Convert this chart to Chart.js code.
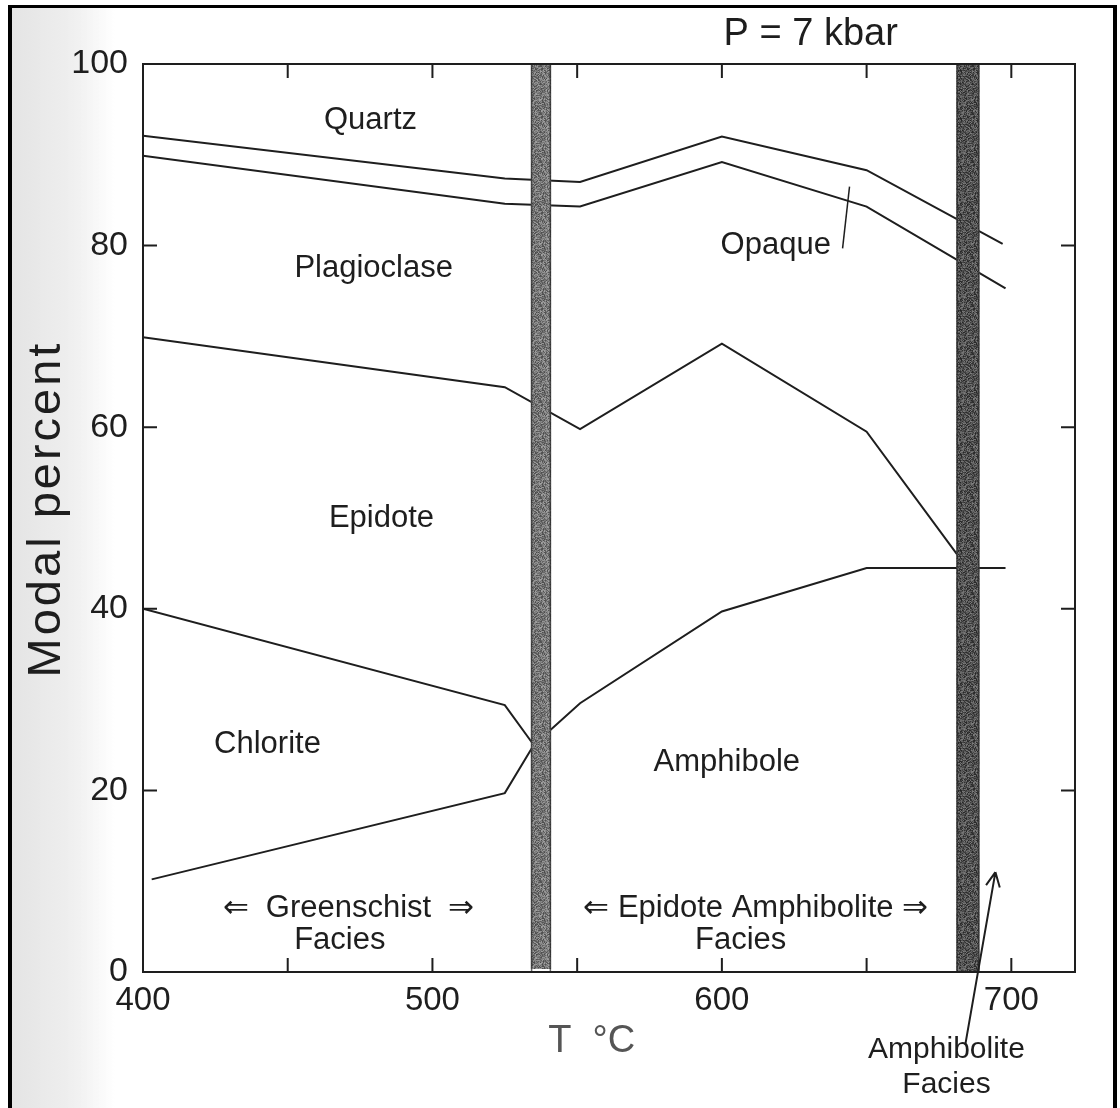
<!DOCTYPE html>
<html>
<head>
<meta charset="utf-8">
<script src="https://cdn.jsdelivr.net/npm/chart.js@4.4.1/dist/chart.umd.min.js"></script>
<style>
  html, body { margin: 0; padding: 0; background: #fff; }
  canvas { display: block; }
</style>
</head>
<body>
<canvas id="modalChart" width="1120" height="1108"></canvas>
<script>
// Modal percent vs temperature, P = 7 kbar
const quartzT = [400, 525, 551, 600, 650, 697];
const quartzV = [92.1, 87.4, 87.0, 92.0, 88.3, 80.2];

const opaqueT = [400, 525, 551, 600, 650, 698];
const opaqueV = [89.9, 84.6, 84.3, 89.2, 84.3, 75.3];

const epidoteT = [400, 525, 551, 600, 650, 684];
const epidoteV = [69.9, 64.4, 59.8, 69.2, 59.5, 44.8];

const chloriteTopT = [400, 525, 535];
const chloriteTopV = [40.0, 29.4, 25.0];

const chloriteBotT = [403, 525, 535];
const chloriteBotV = [10.2, 19.7, 25.0];

const amphiboleT = [535, 551, 600, 650, 698];
const amphiboleV = [25.0, 29.6, 39.7, 44.5, 44.5];

// facies boundary bands (T start / end)
const bandStart = [534, 681];
const bandEnd = [541, 689];

const xTickLabels = [400, 500, 600, 700];
const yTickLabels = [0, 20, 40, 60, 80, 100];
const xTickMarks = [450, 500, 550, 600, 650, 700];
const yTickMarks = [20, 40, 60, 80];

const FONT = '"Liberation Sans", Arial, Helvetica, sans-serif';
const INK = '#1e1e1e';

function pts(ts, vs) {
    return ts.map(function (t, i) { return { x: t, y: vs[i] }; });
}

function lineSet(ts, vs) {
    return {
        data: pts(ts, vs),
        borderColor: INK,
        borderWidth: 2,
        pointRadius: 0,
        tension: 0,
        fill: false
    };
}

// texts placed in data units (T, modal %)
const labels = [
    { text: 'Quartz', t: 478.6, v: 93.8, size: 31 },
    { text: 'Plagioclase', t: 479.7, v: 77.5, size: 31 },
    { text: 'Opaque', t: 618.6, v: 80.0, size: 31 },
    { text: 'Epidote', t: 482.4, v: 50.0, size: 31 },
    { text: 'Chlorite', t: 443.0, v: 25.1, size: 31 },
    { text: 'Amphibole', t: 601.7, v: 23.1, size: 31 },
    { text: '\u21D0  Greenschist  \u21D2', t: 471.0, v: 7.0, size: 31 },
    { text: 'Facies', t: 468.0, v: 3.5, size: 31 },
    { text: '\u21D0 Epidote Amphibolite \u21D2', t: 611.7, v: 7.0, size: 31 },
    { text: 'Facies', t: 606.5, v: 3.5, size: 31 },
    { text: 'Amphibolite', t: 677.6, v: -8.6, size: 30 },
    { text: 'Facies', t: 677.6, v: -12.4, size: 30 },
    { text: 'P = 7 kbar', t: 630.7, v: 103.3, size: 38 },
    { text: 'T  \u00B0C', t: 555.0, v: -7.7, size: 38, color: '#555' }
];

const opaqueLeader = [[644.1, 86.5], [641.7, 79.7]];
const faciesArrow = [[684.1, -8.0], [694.5, 11.0]];

// speckled fill like the scanned bands (fixed seed, texture only)
function speckle(base) {
    const p = document.createElement('canvas');
    p.width = 48; p.height = 48;
    const pc = p.getContext('2d');
    const img = pc.createImageData(48, 48);
    let s = 12345;
    for (let i = 0; i < 48 * 48; i++) {
        s = (s * 1103515245 + 12345) & 0x7fffffff;
        const g = Math.max(0, Math.min(255, base + ((s >> 8) % 90) - 45));
        img.data[i * 4] = g; img.data[i * 4 + 1] = g; img.data[i * 4 + 2] = g; img.data[i * 4 + 3] = 255;
    }
    pc.putImageData(img, 0, 0);
    return p;
}

const decorPlugin = {
    id: 'decor',
    beforeDraw: function (chart) {
        const c = chart.ctx;
        // scanned page shade on the left
        const g = c.createLinearGradient(12, 0, 115, 0);
        g.addColorStop(0, 'rgba(210,210,210,0.6)');
        g.addColorStop(0.6, 'rgba(210,210,210,0.35)');
        g.addColorStop(1, 'rgba(210,210,210,0)');
        c.fillStyle = g;
        c.fillRect(12, 8, 103, 1100);
    },
    afterDatasetsDraw: function (chart) {
        const c = chart.ctx;
        const xs = chart.scales.x, ys = chart.scales.y;
        const top = ys.getPixelForValue(100), bot = ys.getPixelForValue(0);
        const bases = [118, 82];
        bandStart.forEach(function (s, i) {
            const x0 = xs.getPixelForValue(s), x1 = xs.getPixelForValue(bandEnd[i]);
            c.fillStyle = c.createPattern(speckle(bases[i]), 'repeat');
            c.fillRect(x0, top, x1 - x0, bot - top - (i === 0 ? 3 : 0));
            c.strokeStyle = 'rgba(40,40,40,0.7)';
            c.lineWidth = 1.5;
            c.beginPath();
            c.moveTo(x0 + 0.75, top); c.lineTo(x0 + 0.75, bot);
            c.moveTo(x1 - 0.75, top); c.lineTo(x1 - 0.75, bot);
            c.stroke();
        });
    },
    afterDraw: function (chart) {
        const c = chart.ctx;
        const a = chart.chartArea;
        const xs = chart.scales.x, ys = chart.scales.y;
        const px = function (t) { return xs.getPixelForValue(t); };
        const py = function (v) { return ys.getPixelForValue(v); };

        c.save();
        // plot box
        c.strokeStyle = INK;
        c.lineWidth = 2;
        c.strokeRect(a.left, a.top, a.right - a.left, a.bottom - a.top);

        // inward tick marks on all four sides
        const tl = 14;
        c.beginPath();
        xTickMarks.forEach(function (t) {
            const x = px(t);
            c.moveTo(x, a.bottom); c.lineTo(x, a.bottom - tl);
            c.moveTo(x, a.top); c.lineTo(x, a.top + tl);
        });
        yTickMarks.forEach(function (v) {
            const y = py(v);
            c.moveTo(a.left, y); c.lineTo(a.left + tl, y);
            c.moveTo(a.right, y); c.lineTo(a.right - tl, y);
        });
        c.stroke();

        // Opaque leader line
        c.lineWidth = 1.5;
        c.beginPath();
        c.moveTo(px(opaqueLeader[0][0]), py(opaqueLeader[0][1]));
        c.lineTo(px(opaqueLeader[1][0]), py(opaqueLeader[1][1]));
        c.stroke();

        // arrow to amphibolite facies
        const ax0 = px(faciesArrow[0][0]), ay0 = py(faciesArrow[0][1]);
        const ax1 = px(faciesArrow[1][0]), ay1 = py(faciesArrow[1][1]);
        c.lineWidth = 2;
        c.beginPath();
        c.moveTo(ax0, ay0); c.lineTo(ax1, ay1);
        const ang = Math.atan2(ay1 - ay0, ax1 - ax0);
        [0.45, -0.45].forEach(function (d) {
            c.moveTo(ax1, ay1);
            c.lineTo(ax1 - 16 * Math.cos(ang + d), ay1 - 16 * Math.sin(ang + d));
        });
        c.stroke();

        // texts
        c.textAlign = 'center';
        c.textBaseline = 'middle';
        labels.forEach(function (l) {
            c.font = l.size + 'px ' + FONT;
            c.fillStyle = l.color || INK;
            c.fillText(l.text, px(l.t), py(l.v));
        });

        // y axis title
        c.translate(47, 511);
        c.rotate(-Math.PI / 2);
        c.font = '47px ' + FONT;
        c.letterSpacing = '3px';
        c.fillStyle = INK;
        c.fillText('Modal percent', 2, 0);
        c.restore();

        // page frame
        c.save();
        c.fillStyle = '#000';
        c.fillRect(8, 5, 4, 1103);
        c.fillRect(8, 5, 1109, 3);
        c.fillRect(1113, 5, 4, 1103);
        c.restore();
    }
};

const ctx = document.getElementById('modalChart').getContext('2d');
const modalChart = new Chart(ctx, {
    type: 'line',
    data: {
        datasets: [
            lineSet(quartzT, quartzV),
            lineSet(opaqueT, opaqueV),
            lineSet(epidoteT, epidoteV),
            lineSet(chloriteTopT, chloriteTopV),
            lineSet(chloriteBotT, chloriteBotV),
            lineSet(amphiboleT, amphiboleV)
        ]
    },
    options: {
        responsive: false,
        animation: false,
        layout: {
            padding: { top: 64, right: 45, left: 0, bottom: 0 }
        },
        plugins: {
            legend: { display: false },
            tooltip: { enabled: false }
        },
        scales: {
            x: {
                type: 'linear',
                min: 400,
                max: 722,
                grid: { display: false, drawTicks: false },
                border: { display: false },
                afterBuildTicks: function (scale) {
                    scale.ticks = xTickLabels.map(function (v) { return { value: v }; });
                },
                ticks: {
                    autoSkip: false,
                    maxRotation: 0,
                    padding: 9,
                    color: INK,
                    font: { family: FONT, size: 33 }
                },
                afterFit: function (scale) { scale.height = 136; }
            },
            y: {
                min: 0,
                max: 100,
                grid: { display: false, drawTicks: false },
                border: { display: false },
                afterBuildTicks: function (scale) {
                    scale.ticks = yTickLabels.map(function (v) { return { value: v }; });
                },
                ticks: {
                    padding: 15,
                    color: INK,
                    font: { family: FONT, size: 34 }
                },
                afterFit: function (scale) { scale.width = 143; }
            }
        }
    },
    plugins: [decorPlugin]
});
</script>
</body>
</html>
